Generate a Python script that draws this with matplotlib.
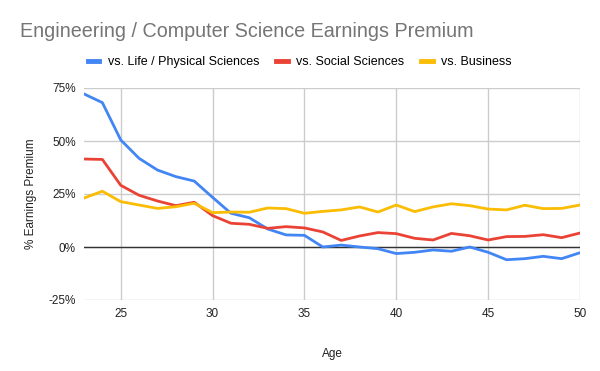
import numpy as np
import matplotlib
matplotlib.use("Agg")
import matplotlib.pyplot as plt

plt.rcParams['font.family'] = ['Liberation Sans', 'DejaVu Sans']

ages = list(range(23, 51))
life_phys = [72.2, 68.1, 50.5, 41.8, 36.3, 33.2, 31.1, 23.4, 15.9, 13.8, 8.5, 5.7, 5.5,
             0.0, 0.9, 0.0, -0.8, -3.1, -2.5, -1.4, -2.0, 0.0, -2.5, -6.0, -5.5, -4.4, -5.5, -2.7]
social = [41.5, 41.3, 29.1, 24.4, 21.7, 19.5, 21.1, 14.8, 11.2, 10.7, 8.8, 9.6, 9.0,
          7.1, 3.1, 5.2, 6.8, 6.3, 4.1, 3.3, 6.4, 5.3, 3.3, 4.9, 5.0, 5.8, 4.4, 6.6]
business = [23.1, 26.3, 21.4, 19.8, 18.2, 19.0, 20.6, 16.2, 16.5, 16.4, 18.4, 18.1, 15.9,
            16.8, 17.5, 18.9, 16.5, 19.8, 16.7, 18.9, 20.4, 19.5, 17.9, 17.5, 19.7, 18.1, 18.2, 19.8]
series = [("vs. Life / Physical Sciences", life_phys, "#4285f4"),
          ("vs. Social Sciences", social, "#ea4335"),
          ("vs. Business", business, "#fbbc04")]
yticks = [-25, 0, 25, 50, 75]
xticks = [25, 30, 35, 40, 45, 50]

fig = plt.figure(figsize=(6, 3.71), dpi=100)
ax = fig.add_axes([84 / 600, 1 - 300 / 371, (580 - 84) / 600, (300 - 88) / 371])

for name, vals, col in series:
    ax.plot(ages, vals, color=col, lw=2, label=name, zorder=3)

ax.axhline(0, color="#333333", lw=1, zorder=2)
ax.set_xlim(23, 50)
ax.set_ylim(-25, 75)
ax.set_yticks(yticks)
ax.set_yticklabels([f"{v}%" for v in yticks])
ax.set_xticks(xticks)
ax.grid(True, color="#cccccc", lw=1, zorder=0)
for s in ax.spines.values():
    s.set_visible(False)
ax.tick_params(length=0, labelsize=8.5, colors="#222222", pad=6)
ax.set_xlabel("Age", fontsize=8.5, color="#222222", labelpad=20)
ax.set_ylabel("% Earnings Premium", fontsize=8.5, color="#222222", labelpad=8)

fig.text(20 / 600, 1 - 37 / 371, "Engineering / Computer Science Earnings Premium",
         fontsize=14.2, color="#757575", ha="left", va="baseline")
leg = fig.legend(loc="center", bbox_to_anchor=(0.5, 1 - 62 / 371), ncol=3, frameon=False,
                 fontsize=9, handlelength=0.9, handletextpad=0.7, columnspacing=1.35)
for h in leg.get_lines():
    h.set_linewidth(3.5)

fig.savefig("out.png", dpi=100)
